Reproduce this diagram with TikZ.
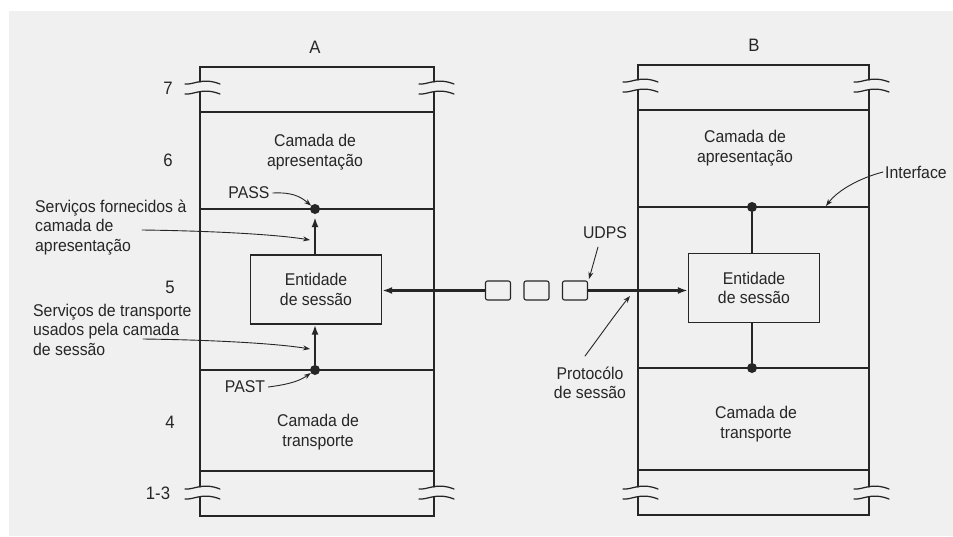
\documentclass[tikz,border=0pt]{standalone}
\usepackage{fontspec}
\setmainfont{Liberation Sans}[FakeStretch=0.93]
\usetikzlibrary{arrows.meta}
\definecolor{ink}{HTML}{262626}
\definecolor{paper}{HTML}{F0F0F0}
\newcommand\wavemark[2]{\draw[frame] (#1-15,#2+2) .. controls (#1-6,#2+3) and (#1+2,#2-5) .. (#1+20,#2+2);}
\newcommand\layerstack[8]{%
  % #1 xl, #2 xr, #3 top, #4 wave1, #5 wave2, #6 wave3, #7 wave4, #8 bottom
  \draw[frame] (#1,#4) -- (#1,#3) -- (#2,#3) -- (#2,#4);
  \draw[frame] (#1,#5) -- (#1,#6);
  \draw[frame] (#2,#5) -- (#2,#6);
  \draw[frame] (#1,#7) -- (#1,#8) -- (#2,#8) -- (#2,#7);
  \wavemark{#1}{#4}\wavemark{#1}{#5}\wavemark{#1}{#6}\wavemark{#1}{#7}
  \wavemark{#2}{#4}\wavemark{#2}{#5}\wavemark{#2}{#6}\wavemark{#2}{#7}
}
\begin{document}
\begin{tikzpicture}[x=1pt,y=-1pt,line cap=round,
  frame/.style={draw=ink,line width=1.25pt},
  lbl/.style={font=\fontsize{17}{19.5}\selectfont,text=ink,inner sep=0pt,align=center},
  lbll/.style={font=\fontsize{17}{19.5}\selectfont,text=ink,inner sep=0pt,align=left},
  num/.style={font=\fontsize{18}{20}\selectfont,text=ink,inner sep=0pt},
  entbox/.style={draw=ink,line width=1.3pt,minimum width=131pt,minimum height=69pt,inner sep=0pt,align=center,
    font=\fontsize{17}{19.5}\selectfont,text=ink},
  pkt/.style={draw=ink,line width=1.1pt,rounded corners=2pt,minimum width=25pt,minimum height=19pt,inner sep=0pt},
  dot/.style={circle,fill=ink,inner sep=0pt,minimum size=10pt},
  thick line/.style={draw=ink,line width=2.2pt},
  thick arrow/.style={draw=ink,line width=2.2pt,-{Latex[length=10pt,width=7pt]}},
  ptr/.style={draw=ink,line width=0.9pt,-{Stealth[length=7pt,width=5pt]}}]
\fill[white] (0,0) rectangle (953,536);
\fill[paper] (9,11) rectangle (953,536);
\useasboundingbox (0,0) rectangle (953,536);

% stacks
\layerstack{200}{434}{67}{82}{92}{487}{497}{516}
\layerstack{638}{869}{65}{80}{90}{487}{497}{515}
\foreach \y in {112,209,370,471} \draw[frame] (200,\y) -- (434,\y);
\foreach \y in {110,207,368,470} \draw[frame] (638,\y) -- (869,\y);

% titles and layer numbers
\node[num] (tA) at (315,47) {A};
\node[num] (tB) at (754,45) {B};
\node[num] (n7) at (168,88) {7};
\node[num] (n6) at (168,160) {6};
\node[num] (n5) at (170,287) {5};
\node[num] (n4) at (170,422) {4};
\node[num] (n13) at (158,493) {1-3};

% layer texts
\node[lbl] (presA) at (315,152) {Camada de\\apresentação};
\node[lbl] (tranA) at (318,432) {Camada de\\transporte};
\node[lbl] (presB) at (745,148) {Camada de\\apresentação};
\node[lbl] (tranB) at (756,424) {Camada de\\transporte};

% entities
\node[entbox] (entA) at (316,289.5) {Entidade\\de sessão};
\node[entbox] (entB) at (754,288) {Entidade\\de sessão};

% dots
\node[dot] (dA1) at (315,209) {};
\node[dot] (dA2) at (315,370) {};
\node[dot] (dB1) at (752,207) {};
\node[dot] (dB2) at (752,368) {};

% packets
\node[pkt] (p1) at (498,290.5) {};
\node[pkt] (p2) at (536.5,290.5) {};
\node[pkt] (p3) at (575,290.5) {};

% vertical service links
\draw[thick arrow,shorten >=3pt] (entA.north -| dA1) -- (dA1);
\draw[thick arrow] (dA2) -- (entA.south -| dA2);
\draw[thick line] (dB1) -- (entB.north -| dB1);
\draw[thick line] (entB.south -| dB2) -- (dB2);

% horizontal protocol line
\draw[thick arrow] (p1.west) -- (entA.east |- p1.west);
\draw[thick arrow] (p3.east) -- (entB.west |- p3.east);

% annotations
\node[lbl] (pass) at (249,193) {PASS};
\node[lbl] (past) at (245,387) {PAST};
\node[lbll,anchor=west] (sf) at (35,227.5) {Serviços fornecidos à\\camada de\\apresentação};
\node[lbll,anchor=west] (st) at (33,329.5) {Serviços de transporte\\usados pela camada\\de sessão};
\node[lbl,anchor=west] (intf) at (885,172) {Interface};
\node[lbl] (udps) at (605,233) {UDPS};
\node[lbl] (prot) at (590,383) {Protocólo\\de sessão};

\coordinate (sf0) at (142,230);
\coordinate (sf1) at (310,240);
\coordinate (st0) at (143,339);
\coordinate (st1) at (310,349);
\coordinate (ud0) at (598,247);
\coordinate (ud1) at (589,279);
\coordinate (pr0) at (585,356);
\coordinate (pr1) at (630,296);
\coordinate (if1) at (826,206);

\draw[ptr] ([xshift=3pt]pass.east) .. controls (293,192) and (301,197) .. (dA1);
\draw[ptr] ([xshift=3pt]past.east) .. controls (292,384) and (301,380) .. (dA2);
\draw[ptr] (sf0) .. controls (220,231) and (280,235) .. (sf1);
\draw[ptr] (st0) .. controls (220,340) and (280,344) .. (st1);
\draw[ptr] (ud0) -- (ud1);
\draw[ptr] (pr0) .. controls (600,336) and (616,313) .. (pr1);
\draw[ptr] ([xshift=-2pt]intf.west) .. controls (860,178) and (838,190) .. (if1);
\end{tikzpicture}
\end{document}
